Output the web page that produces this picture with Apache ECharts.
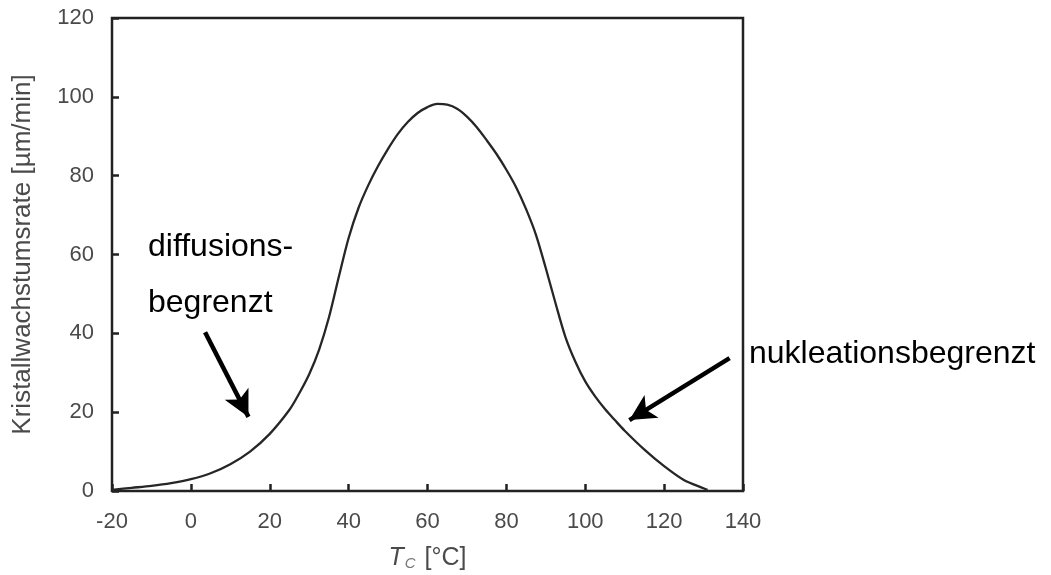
<!DOCTYPE html>
<html lang="de">
<head>
<meta charset="utf-8">
<title>Kristallwachstumsrate</title>
<script src="https://cdn.jsdelivr.net/npm/echarts@6.0.0/dist/echarts.min.js"></script>
<style>
  html, body { margin: 0; padding: 0; background: #fff; }
  #chart { width: 1051px; height: 575px; }
</style>
</head>
<body>
<div id="chart"></div>
<script>
// Temperature (°C) and crystal growth rate (µm/min)
const temps = [-20, -15, -10, -5, 0, 5, 10, 15, 20, 25, 27.5, 30, 32.5, 35, 37.5, 40, 42.5, 45, 47.5, 50, 52.5, 55, 57.5, 60, 62.5, 65, 67.5, 70, 72.5, 75, 77.5, 80, 82.5, 85, 87.5, 90, 92.5, 95, 97.5, 100, 102.5, 105, 107.5, 110, 115, 120, 125, 130, 131];
const rates = [0.3, 0.8, 1.3, 2.0, 3.0, 4.5, 6.8, 10, 14.5, 20.6, 24.8, 29.6, 35.8, 44, 54.3, 64.2, 71.8, 77.6, 82.5, 86.8, 90.6, 93.6, 95.9, 97.4, 98.2, 98, 97, 95, 92.3, 89, 85.5, 81.5, 77, 71.5, 65, 56.5, 47.5, 39, 32.8, 27.8, 24, 20.8, 18, 15.3, 10.5, 6.3, 2.8, 0.7, 0.3];

const xTicks = [-20, 0, 20, 40, 60, 80, 100, 120, 140];
const yTicks = [0, 20, 40, 60, 80, 100, 120];

// annotation arrows in data space: [from, to]
const arrowDiffusion = [[3.6, 40.3], [14.6, 18.8]];
const arrowNucleation = [[136.6, 33.7], [111.2, 18.0]];

const FONT = "'Liberation Sans', Arial, Helvetica, sans-serif";
const LABEL_COLOR = "#4a4a4a";

const chart = echarts.init(document.getElementById("chart"));

chart.setOption({
  animation: false,
  backgroundColor: "#fff",
  textStyle: { fontFamily: FONT },
  grid: {
    left: 112,
    right: 308,
    top: 18,
    bottom: 84,
    outerBoundsMode: "none",
    show: true,
    borderColor: "#222",
    borderWidth: 2.5,
    backgroundColor: "transparent",
  },
  xAxis: {
    type: "value",
    min: xTicks[0],
    max: xTicks[xTicks.length - 1],
    interval: 20,
    axisLine: { show: false, onZero: false },
    axisTick: { show: true, inside: true, length: 7, lineStyle: { color: "#222", width: 2.5 } },
    splitLine: { show: false },
    axisLabel: { color: LABEL_COLOR, fontSize: 22, margin: 20, fontFamily: FONT },
    name: "{t|T}{s|C} [°C]",
    nameLocation: "middle",
    nameGap: 55,
    nameTextStyle: {
      color: LABEL_COLOR,
      fontSize: 25,
      fontFamily: FONT,
      rich: {
        t: { fontSize: 25, fontStyle: "italic", color: LABEL_COLOR, fontFamily: FONT },
        s: { fontSize: 15, fontStyle: "italic", color: "#777", fontFamily: FONT, verticalAlign: "bottom", padding: [10, 2, 0, 1] },
      },
    },
  },
  yAxis: {
    type: "value",
    min: yTicks[0],
    max: yTicks[yTicks.length - 1],
    interval: 20,
    axisLine: { show: false, onZero: false },
    axisTick: { show: true, inside: true, length: 7, lineStyle: { color: "#222", width: 2.5 } },
    splitLine: { show: false },
    axisLabel: { color: LABEL_COLOR, fontSize: 22, margin: 18, fontFamily: FONT },
    name: "Kristallwachstumsrate [µm/min]",
    nameLocation: "middle",
    nameGap: 76,
    nameTextStyle: { color: LABEL_COLOR, fontSize: 26, fontFamily: FONT },
  },
  series: [
    {
      type: "line",
      data: temps.map((t, i) => [t, rates[i]]),
      smooth: 0.3,
      showSymbol: false,
      lineStyle: { color: "#262626", width: 2.3 },
      silent: true,
      markLine: {
        silent: true,
        symbol: ["none", "arrow"],
        symbolSize: [20, 26],
        label: { show: false },
        lineStyle: { color: "#000", width: 4.5, type: "solid" },
        data: [
          [{ coord: arrowDiffusion[0] }, { coord: arrowDiffusion[1] }],
          [{ coord: arrowNucleation[0] }, { coord: arrowNucleation[1] }],
        ],
      },
    },
  ],
  graphic: [
    { type: "text", left: 148, top: 231, style: { text: "diffusions-", fill: "#000", font: "32px " + FONT } },
    { type: "text", left: 148, top: 287, style: { text: "begrenzt", fill: "#000", font: "32px " + FONT } },
    { type: "text", left: 749, top: 338, style: { text: "nukleationsbegrenzt", fill: "#000", font: "32px " + FONT } },
  ],
});
</script>
</body>
</html>
